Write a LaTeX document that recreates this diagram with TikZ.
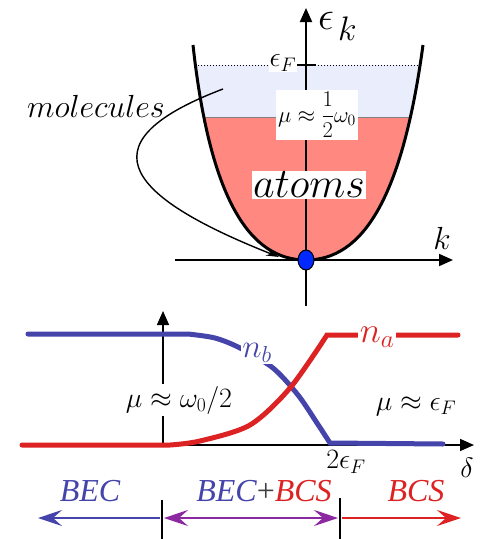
\RequirePackage{fix-cm}
\documentclass[tikz,border=0pt]{standalone}
\usepackage{fontspec}
\newfontfamily\timesf{Liberation Serif}
\usetikzlibrary{arrows.meta,shapes.geometric}
\definecolor{bluec}{RGB}{68,68,170}
\definecolor{redc}{RGB}{220,34,34}
\definecolor{purpc}{RGB}{140,40,160}
\definecolor{lblue}{RGB}{234,238,252}
\definecolor{salmon}{RGB}{255,136,128}
\definecolor{dotblue}{RGB}{0,40,255}
\tikzset{
  axis/.style={line width=2pt,-{Triangle[length=14pt,width=12pt]}},
  lbl/.style={inner sep=1pt,font=\fontsize{28}{30}\selectfont},
  wlbl/.style={lbl,fill=white},
  curveb/.style={line width=5pt,bluec},
  curver/.style={line width=5pt,redc},
  regarrow/.style={line width=2pt,-{Stealth[length=24pt,width=16pt,inset=9pt]}},
  regdouble/.style={line width=2pt,{Stealth[length=24pt,width=16pt,inset=9pt]}-{Stealth[length=24pt,width=16pt,inset=9pt]}},
  regtick/.style={line width=1.6pt},
  reglbl/.style={inner sep=0pt,font=\fontsize{32}{34}\selectfont\timesf\itshape},
}
\begin{document}
\begin{tikzpicture}[x=1pt,y=-1pt]
\useasboundingbox (0,0) rectangle (487,539);
% ---------- top: dispersion ----------
\begin{scope}
\path[clip] (193,45) .. controls (210,200) and (250,260) .. (306,260)
  .. controls (362,260) and (402,200) .. (423,45) -- cycle;
\fill[lblue] (150,65) rectangle (450,117);
\fill[salmon] (150,117) rectangle (450,270);
\draw[gray,line width=0.6pt] (150,117) -- (450,117);
\draw[line width=1pt,dotted] (150,65) -- (450,65);
\end{scope}
\draw[line width=3pt] (193,45) .. controls (210,200) and (250,260) .. (306,260)
  .. controls (362,260) and (402,200) .. (423,45);
\coordinate (tkl) at (175,260);
\coordinate (tkr) at (453,260);
\coordinate (tel) at (306,306);
\coordinate (teh) at (306,8);
\draw[axis] (tkl) -- (tkr);
\draw[axis] (tel) -- (teh);
\coordinate (efa) at (297,65);
\coordinate (efb) at (316,65);
\draw[line width=1.5pt] (efa) -- (efb);
\node[inner sep=0pt,anchor=base west,font=\fontsize{40}{42}\selectfont] (ek) at (318,29) {$\epsilon$};
\node[inner sep=0pt,anchor=base west,font=\fontsize{34}{36}\selectfont] (eksub) at (338,40) {$k$};
\node[lbl,font=\fontsize{32}{34}\selectfont] (kl) at (442,238) {$k$};
\node[wlbl] (ef) at (283,63) {$\epsilon_F$};
\node[wlbl,inner sep=2pt,font=\fontsize{22.5}{24}\selectfont] (mu1) at (317,115) {$\displaystyle\mu\approx\frac{1}{2}\omega_0$};
\node[wlbl,font=\fontsize{42}{44}\selectfont] (atoms) at (309,185) {$atoms$};
\node[lbl,font=\fontsize{32}{34}\selectfont] (mol) at (96,106) {$molecules$};
\coordinate (mols) at (223,89);
\coordinate (molt) at (279,257);
\draw[line width=1.4pt,-{Stealth[length=13pt,width=7pt]}] (mols) .. controls (75,145) and (135,200) .. (molt);
\node[ellipse,draw,line width=1pt,fill=dotblue,minimum width=16pt,minimum height=20pt,inner sep=0pt] (dot) at (306,260) {};
% ---------- middle: densities ----------
\coordinate (bxl) at (60,445);
\coordinate (bxr) at (474,445);
\coordinate (byl) at (163,445);
\coordinate (byh) at (163,311);
\draw[axis,line width=1.5pt] (bxl) -- (bxr);
\draw[axis,line width=1.5pt] (byl) -- (byh);
\node[wlbl,inner sep=2pt] (mu2) at (179,400) {$\mu\approx\omega_0/2$};
\draw[curveb,line cap=round] (28,334) -- (188,334)
  plot[smooth] coordinates {(188,334) (215,338) (240,348) (273,368) (298,395) (317,423) (330,443)}
  -- (443,444);
\draw[curver,line cap=round] (22,445) -- (170,445)
  plot[smooth] coordinates {(170,445) (200,441) (250,425) (290,388) (327,335)}
  -- (458,335);
\node[lbl,fill=white,text=bluec,inner sep=1pt,font=\fontsize{33}{35}\selectfont] (nb) at (257,353) {$n_b$};
\node[lbl,fill=white,text=redc,inner sep=2pt,font=\fontsize{36}{38}\selectfont] (na) at (377,337) {$n_a$};
\node[lbl] (mu3) at (416,406) {$\mu\approx\epsilon_F$};
\node[lbl] (tef) at (346,462) {$2\epsilon_F$};
\node[lbl] (del) at (467,468) {$\delta$};
% ---------- bottom: regimes ----------
\coordinate (t1a) at (162,500);
\coordinate (t1b) at (162,539);
\coordinate (t2a) at (340,498);
\coordinate (t2b) at (340,539);
\coordinate (a1) at (160,518);
\coordinate (a0) at (38,518);
\coordinate (a2) at (164,518);
\coordinate (a3) at (338,518);
\coordinate (a4) at (342,518);
\coordinate (a5) at (461,518);
\draw[regarrow,bluec] (a1) -- (a0);
\draw[regdouble,purpc] (a2) -- (a3);
\draw[regarrow,redc] (a4) -- (a5);
\draw[regtick] (t1a) -- (t1b);
\draw[regtick] (t2a) -- (t2b);
\node[reglbl,text=bluec] (bec) at (90,491) {BEC};
\node[reglbl] (mix) at (264,491) {\textcolor{bluec}{BEC}{\color{darkgray}\upshape+}\textcolor{redc}{BCS}};
\node[reglbl,text=redc] (bcs) at (416,491) {BCS};
\end{tikzpicture}
\end{document}
